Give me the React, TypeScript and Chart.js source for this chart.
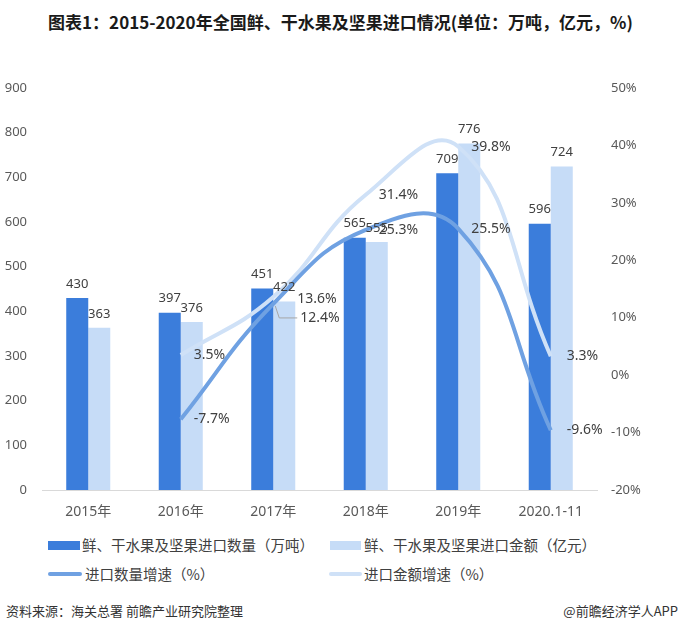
import React, { useEffect, useRef } from "react";
import { Chart, registerables } from "chart.js";

Chart.register(...registerables);

const categories = ["2015年", "2016年", "2017年", "2018年", "2019年", "2020.1-11"];
const importVolume = [430, 397, 451, 565, 709, 596];
const importValue = [363, 376, 422, 555, 776, 724];
const volumeGrowth = [null, -7.7, 12.4, 25.3, 25.5, -9.6];
const valueGrowth = [null, 3.5, 13.6, 31.4, 39.8, 3.3];

const seriesNames = [
  "鲜、干水果及坚果进口数量（万吨）",
  "鲜、干水果及坚果进口金额（亿元）",
  "进口数量增速（%）",
  "进口金额增速（%）",
];

const DARK = "#3b7ddb";
const LIGHT = "#c6dcf7";
const LINE_DARK = "#6fa1e2";
const LINE_LIGHT = "#cfe1f7";
const FONT = "'Noto Sans', 'Noto Sans CJK SC', sans-serif";
const CJK = "'Noto Sans CJK SC', 'Noto Sans', sans-serif";

const labelPlugin = {
  id: "valueLabels",
  afterDatasetsDraw(chart: any) {
    const ctx = chart.ctx;
    ctx.save();
    ctx.fillStyle = "#404040";
    // bar labels
    [0, 1].forEach((di) => {
      const meta = chart.getDatasetMeta(di);
      const data = chart.data.datasets[di].data;
      ctx.font = `13px ${FONT}`;
      ctx.textAlign = "center";
      ctx.textBaseline = "middle";
      meta.data.forEach((el: any, i: number) => {
        ctx.fillText(String(data[i]), el.x, el.y - 14);
      });
    });
    // line labels
    [2, 3].forEach((di) => {
      const meta = chart.getDatasetMeta(di);
      const data = chart.data.datasets[di].data;
      ctx.font = `14px ${FONT}`;
      ctx.textAlign = "left";
      ctx.textBaseline = "middle";
      meta.data.forEach((el: any, i: number) => {
        const v = data[i];
        if (v === null || v === undefined) return;
        let dx = i === 5 ? 16 : 13;
        let dy = 0;
        if (i === 2) {
          if (di === 2) {
            dx = 27;
            dy = 14;
            ctx.strokeStyle = "#a6a6a6";
            ctx.lineWidth = 1;
            ctx.beginPath();
            ctx.moveTo(el.x + 2, el.y + 2);
            ctx.lineTo(el.x + 6, el.y + dy);
            ctx.lineTo(el.x + dx - 3, el.y + dy);
            ctx.stroke();
          } else {
            dx = 24;
            dy = 2;
          }
        }
        ctx.fillText(v.toFixed(1) + "%", el.x + dx, el.y + dy);
      });
    });
    ctx.restore();
  },
};

export default function App() {
  const ref = useRef<HTMLCanvasElement>(null);

  useEffect(() => {
    if (!ref.current) return;
    const chart = new Chart(ref.current, {
      type: "bar",
      data: {
        labels: categories,
        datasets: [
          {
            type: "bar",
            label: seriesNames[0],
            data: importVolume,
            backgroundColor: DARK,
            yAxisID: "y",
            order: 2,
            barPercentage: 1,
            categoryPercentage: 0.476,
          },
          {
            type: "bar",
            label: seriesNames[1],
            data: importValue,
            backgroundColor: LIGHT,
            yAxisID: "y",
            order: 2,
            barPercentage: 1,
            categoryPercentage: 0.476,
          },
          {
            type: "line",
            label: seriesNames[2],
            data: volumeGrowth as any,
            borderColor: LINE_DARK,
            borderWidth: 4,
            pointRadius: 0,
            tension: 0.45,
            yAxisID: "y2",
            order: 0,
          },
          {
            type: "line",
            label: seriesNames[3],
            data: valueGrowth as any,
            borderColor: LINE_LIGHT,
            borderWidth: 4,
            pointRadius: 0,
            tension: 0.45,
            yAxisID: "y2",
            order: 1,
          },
        ],
      },
      options: {
        responsive: false,
        animation: false,
        devicePixelRatio: 1,
        layout: { padding: { top: 88, left: 0, right: 0, bottom: 0 } },
        plugins: {
          legend: { display: false },
          tooltip: { enabled: false },
          title: { display: false },
        },
        scales: {
          x: {
            grid: { display: false, drawTicks: false },
            border: { display: true, color: "#d9d9d9", width: 1 },
            ticks: { color: "#595959", font: { family: FONT, size: 14 }, padding: 14 },
            afterFit(scale: any) {
              scale.height = 40;
            },
          },
          y: {
            position: "left",
            min: 0,
            max: 900,
            grid: { display: false, drawTicks: false },
            border: { display: false },
            ticks: { stepSize: 100, color: "#595959", font: { family: FONT, size: 13 }, padding: 15 },
            afterFit(scale: any) {
              scale.width = 42;
            },
          },
          y2: {
            position: "right",
            min: -20,
            max: 50,
            grid: { display: false, drawTicks: false },
            border: { display: false },
            ticks: {
              stepSize: 10,
              color: "#595959",
              font: { family: FONT, size: 13 },
              padding: 14,
              callback: (v: any) => v + "%",
            },
            afterFit(scale: any) {
              scale.width = 84;
            },
          },
        },
      },
      plugins: [labelPlugin],
    });
    return () => chart.destroy();
  }, []);

  const legendText: React.CSSProperties = {
    position: "absolute",
    fontFamily: CJK,
    fontSize: 14.5,
    color: "#404040",
    whiteSpace: "nowrap",
    lineHeight: "20px",
  };

  return (
    <div style={{ position: "absolute", left: 0, top: 0, width: 681, height: 633, background: "#fff", overflow: "hidden" }}>
      <div
        style={{
          position: "absolute",
          top: 10,
          left: 0,
          width: 681,
          textAlign: "center",
          fontFamily: CJK,
          fontWeight: 700,
          fontSize: 17,
          color: "#1a1a1a",
          lineHeight: "24px",
        }}
      >
        图表1：2015-2020年全国鲜、干水果及坚果进口情况(单位：万吨，亿元，%)
      </div>
      <canvas ref={ref} width={681} height={530} style={{ position: "absolute", left: 0, top: 0, width: 681, height: 530 }} />
      {/* legend */}
      <div style={{ position: "absolute", left: 48, top: 541, width: 32, height: 9, background: DARK }} />
      <div style={{ ...legendText, left: 82, top: 535 }}>{seriesNames[0]}</div>
      <div style={{ position: "absolute", left: 330, top: 541, width: 31, height: 9, background: LIGHT }} />
      <div style={{ ...legendText, left: 364, top: 535 }}>{seriesNames[1]}</div>
      <div style={{ position: "absolute", left: 48, top: 572, width: 34, height: 4, borderRadius: 2, background: LINE_DARK }} />
      <div style={{ ...legendText, left: 85, top: 564 }}>{seriesNames[2]}</div>
      <div style={{ position: "absolute", left: 329, top: 572, width: 33, height: 4, borderRadius: 2, background: LINE_LIGHT }} />
      <div style={{ ...legendText, left: 364, top: 564 }}>{seriesNames[3]}</div>
      {/* source */}
      <div style={{ position: "absolute", left: 6, top: 602, fontFamily: CJK, fontSize: 13, color: "#333", lineHeight: "18px", whiteSpace: "nowrap" }}>
        资料来源：海关总署 前瞻产业研究院整理
      </div>
      <div style={{ position: "absolute", right: 3, top: 602, fontFamily: CJK, fontSize: 13, color: "#333", lineHeight: "18px", whiteSpace: "nowrap" }}>
        @前瞻经济学人APP
      </div>
    </div>
  );
}
